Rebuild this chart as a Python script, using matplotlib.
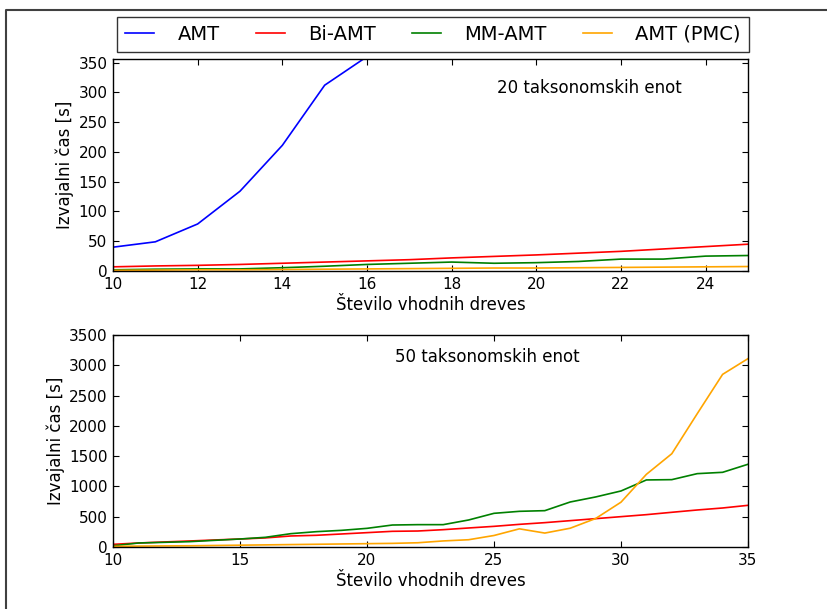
import matplotlib
matplotlib.use("Agg")
import matplotlib.pyplot as plt
from matplotlib.lines import Line2D

# ---- data: 20 taxa ----
x20 = list(range(10, 26))
amt20 = [40, 49, 79, 134, 211, 312, 360]
biamt20 = [7, 8.5, 9.5, 11, 13, 15, 17, 19, 22, 24.5, 27, 30, 33, 37, 41, 45]
mmamt20 = [2, 3, 3.5, 3.5, 5.5, 8, 11, 13, 15, 13, 14, 16, 20, 20, 25, 26]
pmc20 = [1, 1.5, 2, 2, 2.5, 3, 3.5, 4, 4.5, 5, 5, 5.5, 6, 6.5, 7, 7.5]

# ---- data: 50 taxa ----
x50 = list(range(10, 36))
biamt50 = [44, 66, 83, 99, 116, 132, 150, 182, 193, 215, 237, 259, 264, 286, 314,
           341, 374, 402, 435, 468, 501, 534, 573, 611, 644, 688]
mmamt50 = [20, 66, 77, 88, 110, 132, 160, 220, 253, 275, 308, 363, 369, 369, 446,
           556, 589, 600, 743, 826, 925, 1107, 1112, 1211, 1233, 1366]
pmc50 = [10, 15, 18, 20, 25, 30, 35, 40, 45, 50, 55, 60, 70, 100, 120,
         190, 300, 230, 310, 470, 740, 1200, 1540, 2200, 2850, 3110]

labels = ["AMT", "Bi-AMT", "MM-AMT", "AMT (PMC)"]
colors = ["blue", "red", "green", "orange"]

plt.rcParams['font.family'] = ['DejaVu Sans']

fig = plt.figure(figsize=(8.28, 6.09), dpi=100)
W, H = 828, 609

def fr(l, t, r, b):
    return [l / W, 1 - b / H, (r - l) / W, (b - t) / H]

ax1 = fig.add_axes(fr(113, 59, 748, 271))
ax2 = fig.add_axes(fr(113, 335, 748, 547))

lw = 1.2
h1, = ax1.plot(x20[:len(amt20)], amt20, color=colors[0], lw=lw)
h2, = ax1.plot(x20, biamt20, color=colors[1], lw=lw)
h3, = ax1.plot(x20, mmamt20, color=colors[2], lw=lw)
h4, = ax1.plot(x20, pmc20, color=colors[3], lw=lw)
ax1.set_xlim(10, 25)
ax1.set_ylim(0, 356)
ax1.set_xticks(range(10, 26, 2))
ax1.set_yticks(range(0, 351, 50))
ax1.text(0.605, 0.863, "20 taksonomskih enot", transform=ax1.transAxes,
         fontsize=12, va="center", ha="left")

ax2.plot(x50, biamt50, color=colors[1], lw=lw)
ax2.plot(x50, mmamt50, color=colors[2], lw=lw)
ax2.plot(x50, pmc50, color=colors[3], lw=lw)
ax2.set_xlim(10, 35)
ax2.set_ylim(0, 3500)
ax2.set_xticks(range(10, 36, 5))
ax2.set_yticks(range(0, 3501, 500))
ax2.text(0.444, 0.896, "50 taksonomskih enot", transform=ax2.transAxes,
         fontsize=12, va="center", ha="left")

for ax in (ax1, ax2):
    ax.set_xlabel("Število vhodnih dreves", fontsize=12, labelpad=3)
    ax.set_ylabel("Izvajalni čas [s]", fontsize=12, labelpad=3)
    ax.tick_params(direction="in", top=True, right=True, length=4.5,
                   width=0.8, labelsize=11, pad=4)
    for s in ax.spines.values():
        s.set_linewidth(1.0)

leg = fig.legend([h1, h2, h3, h4], labels, loc="lower left",
                 bbox_to_anchor=(117 / W, 1 - 52 / H, 632 / W, 35 / H),
                 bbox_transform=fig.transFigure, mode="expand", ncol=4,
                 borderaxespad=0, fontsize=14, fancybox=False, frameon=True,
                 handlelength=1.5, handletextpad=1.2, borderpad=0.42)
leg.get_frame().set_edgecolor("black")
leg.get_frame().set_linewidth(1.0)

# outer frame (cropped border)
fig.add_artist(Line2D([6 / W, 6 / W, 1.0], [0.0, 1 - 10 / H, 1 - 10 / H],
                      transform=fig.transFigure, color="#404040", lw=1.5))

fig.savefig("out.png", dpi=100)
